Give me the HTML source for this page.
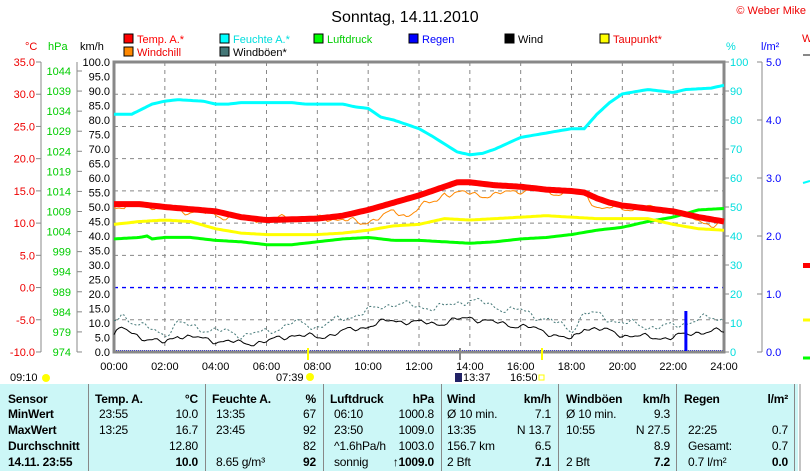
<!DOCTYPE html>
<html><head><meta charset="utf-8"><style>
body{margin:0;width:810px;height:471px;background:#fff;overflow:hidden;font-family:"Liberation Sans",sans-serif;position:relative}
svg{position:absolute;left:0;top:0}
#tbl{position:absolute;left:0;top:384px;width:798px;height:87px;background:#ccf7f7}
.c{position:absolute;font-size:12px;white-space:nowrap;letter-spacing:-0.2px}
.b{font-weight:bold}
.vd{position:absolute;top:384px;width:1px;height:87px;background:#888}
</style></head><body>
<svg width="810" height="471" id="s" font-family="Liberation Sans, sans-serif"></svg>
<div id="tbl"></div>
<script>
const s=document.getElementById('s');
let h='';
const X=t=>114+t*25.417, Y=v=>352-v*2.9;
h+=`<text x="405" y="22" font-size="16" text-anchor="middle">Sonntag, 14.11.2010</text>`;
h+=`<text x="806" y="14" font-size="11" fill="#e00" text-anchor="end">© Weber Mike</text>`;
const lg=[[124,38,'#f00','#f00','Temp. A.*'],[220,38,'#0ff','#0dd','Feuchte A.*'],[314,38,'#0f0','#0c0','Luftdruck'],[409,38,'#00f','#00f','Regen'],[505,38,'#000','#000','Wind'],[600,38,'#ff0','#e00','Taupunkt*'],[124,51,'#f80','#e00','Windchill'],[220,51,'#477','#000','Windböen*']];
lg.forEach(l=>{h+=`<rect x="${l[0]}" y="${l[1]-4}" width="9" height="9" fill="${l[2]}" stroke="#000"/><text x="${l[0]+13}" y="${l[1]+5}" font-size="11" fill="${l[3]}">${l[4]}</text>`});
h+=`<text x="25" y="50" font-size="11" fill="#e00">°C</text><text x="48" y="50" font-size="11" fill="#0c0">hPa</text><text x="80" y="50" font-size="11">km/h</text><text x="726" y="50" font-size="11" fill="#0dd">%</text><text x="761" y="50" font-size="11" fill="#00f">l/m²</text><text x="802" y="42" font-size="11" fill="#e00">W</text>`;
for(let i=1;i<12;i++){h+=`<line x1="${X(i*2)}" y1="62" x2="${X(i*2)}" y2="352" stroke="#888" stroke-dasharray="4,4"/>`}
for(let i=1;i<9;i++){const y=62+i*32.22;h+=`<line x1="114" y1="${y}" x2="724" y2="${y}" stroke="${i==7?'#00f':'#888'}" stroke-width="${i==7?1.3:1}" stroke-dasharray="4,4"/>`}
h+=`<line x1="114" y1="351" x2="724" y2="351" stroke="#00f" stroke-dasharray="1,1" stroke-width="2"/>`;
h+=`<rect x="114" y="62" width="610" height="290" fill="none" stroke="#888" stroke-width="3"/>`;
h+=`<line x1="41" y1="62" x2="41" y2="352" stroke="#888"/><line x1="77" y1="62" x2="77" y2="352" stroke="#888"/><line x1="762" y1="62" x2="762" y2="352" stroke="#888"/>`;
for(let i=0;i<=9;i++){const y=62+i*32.22;h+=`<line x1="36" y1="${y}" x2="41" y2="${y}" stroke="#888"/><text x="35" y="${y+4}" font-size="11" fill="#e00" text-anchor="end">${(35-i*5).toFixed(1)}</text>`}
for(let i=0;i<=14;i++){const y=71+i*20.07;h+=`<line x1="77" y1="${y}" x2="82" y2="${y}" stroke="#888"/><text x="71" y="${y+4}" font-size="11" fill="#0c0" text-anchor="end">${1044-i*5}</text>`}
for(let i=0;i<=20;i++){const y=62+i*14.5;h+=`<text x="110" y="${y+4}" font-size="11" text-anchor="end">${(100-i*5).toFixed(1)}</text>`}
for(let i=0;i<=10;i++){const y=62+i*29;h+=`<line x1="724" y1="${y}" x2="729" y2="${y}" stroke="#888"/><text x="730" y="${y+4}" font-size="11" fill="#0dd">${100-i*10}</text>`}
for(let i=0;i<=5;i++){const y=62+i*58;h+=`<line x1="757" y1="${y}" x2="762" y2="${y}" stroke="#888"/><text x="766" y="${y+4}" font-size="11" fill="#00f">${(5-i).toFixed(1)}</text>`}
for(let i=0;i<=12;i++){h+=`<text x="${X(i*2)}" y="370" font-size="11" text-anchor="middle">${String(i*2).padStart(2,'0')}:00</text>`}
function interp(p,t){for(let i=0;i<p.length-1;i++){if(t<=p[i+1][0]){const a=p[i],b=p[i+1];return a[1]+(b[1]-a[1])*(t-a[0])/(b[0]-a[0])}}return p[p.length-1][1]}
function path(p,step,noise,seed){let d='';for(let t=0;t<=24.001;t+=step){let v=interp(p,t);if(noise)v+=noise*(Math.sin(t*4.3+seed)+0.6*Math.sin(t*9.1+seed*2)+0.4*Math.sin(t*15.7+seed));d+=(d?'L':'M')+X(t).toFixed(1)+','+Y(v).toFixed(1)}return d}
const hum=[[0,82],[0.7,82],[1.5,85.5],[2,86.5],[2.5,87],[3.5,86.5],[4,85.5],[4.5,85.5],[5,86],[7,86],[7.5,85.5],[9,85.5],[9.5,84.5],[10,84],[10.5,81],[11,80],[12,77],[12.5,74.5],[13.5,69],[14,68],[14.5,68.5],[15,70],[16,74],[17,75.5],[18,77],[18.5,77],[19,82],[19.5,86],[20,89],[21,90.5],[22,89.5],[22.5,90.5],[23.5,91],[24,92]];
const tmp=[[0,51],[1,51],[2,50],[4,48.5],[5,46.5],[6,45.5],[8,46],[9,47],[10,49],[11,51.5],[12,54],[13,57],[13.5,58.5],[14,58.5],[15,57.5],[16,57],[17,56],[18,55.5],[18.5,55],[19,53],[19.5,51.5],[20,50.5],[21,49.5],[22,48.5],[23,46.5],[24,45]];
const wc=[[0,51],[0.4,49],[1,51],[5,46],[8,46],[9,46],[9.7,44],[10.5,47],[11,48],[11.5,47],[12,50],[12.7,52],[13,55],[15,54],[16,56],[17,55],[18,55],[18.5,55],[19,50],[19.5,49.5],[20,49.5],[21,49.5],[22,48.5],[23,45.5],[23.5,44],[24,44]];
const dew=[[0,44],[1,45],[2,45.5],[3,45],[4,42.5],[5,41],[6,40.5],[8,40.5],[9,41],[10,42],[11,43.5],[12,44],[13,46],[14,45.5],[15,46],[16,46.5],[17,47],[18,46.5],[19,46],[21,46],[22,44],[23,42.5],[24,42]];
const prs=[[0,39],[1,39.5],[1.3,40],[1.5,39],[2,39.5],[3,39.5],[4,38.5],[5,38],[6,37],[7,37],[8,38],[9,39],[10,39.5],[11,38.5],[12,38.5],[13,38],[14,37.5],[15,38],[16,39],[17,39.5],[18,40.5],[19,42],[20,43],[21,45],[22,46.5],[23,49],[24,49.5]];
const wnd=[[0,6],[0.3,8],[1,5.5],[1.5,4],[2,3],[2.5,6],[3,5],[4,4],[5,3],[6,3.5],[7,6],[8,5],[9,7],[10,9],[11,11],[12,10],[13,10],[14,12],[15,10],[16,9],[17,7],[18,4],[18.5,8.5],[19,8],[20,6],[21,5],[22,5],[23,7],[24,7]];
const gst=wnd.map(p=>[p[0],p[1]*1.35+2]);
h+=`<path d="${path(hum,0.1)}" fill="none" stroke="#0ff" stroke-width="3"/>`;
h+=`<path d="${path(prs,0.1)}" fill="none" stroke="#0f0" stroke-width="3"/>`;
h+=`<path d="${path(dew,0.1)}" fill="none" stroke="#ff0" stroke-width="3"/>`;
h+=`<path d="${path(gst,0.1,0.9,2)}" fill="none" stroke="#477" stroke-dasharray="2,2"/>`;
h+=`<path d="${path(wnd,0.1,0.7,0)}" fill="none" stroke="#000"/>`;
h+=`<path d="${path(wc,0.1,0.8,5)}" fill="none" stroke="#f80"/>`;
h+=`<path d="${path(tmp,0.1)}" fill="none" stroke="#f00" stroke-width="6"/>`;
h+=`<line x1="${X(22.5)}" y1="351" x2="${X(22.5)}" y2="311" stroke="#00f" stroke-width="3"/>`;
h+=`<line x1="308" y1="348" x2="308" y2="360" stroke="#ff0" stroke-width="2"/><line x1="542" y1="348" x2="542" y2="360" stroke="#ff0" stroke-width="2"/><line x1="460" y1="348" x2="460" y2="360" stroke="#888" stroke-width="2"/>`;
h+=`<text x="10" y="381" font-size="11">09:10</text><circle cx="46" cy="378" r="4" fill="#ff0"/><text x="276" y="381" font-size="11">07:39</text><circle cx="310" cy="377" r="4" fill="#ff0"/><rect x="455" y="373" width="7" height="9" fill="#226"/><text x="463" y="381" font-size="11">13:37</text><text x="510" y="381" font-size="11">16:50</text><rect x="539" y="375" width="5" height="5" fill="none" stroke="#ff0"/>`;
h+=`<line x1="803" y1="55" x2="810" y2="55" stroke="#888" stroke-width="2"/><rect x="803" y="263" width="7" height="5" fill="#f00"/><line x1="803" y1="320" x2="810" y2="320" stroke="#ff0" stroke-width="3"/><line x1="803" y1="358" x2="810" y2="358" stroke="#0f0" stroke-width="3"/><line x1="803" y1="183" x2="810" y2="181" stroke="#0ff" stroke-width="2"/><line x1="800" y1="384" x2="800" y2="471" stroke="#888"/>`;
s.innerHTML=h;
const T=document.getElementById('tbl');let q='';
const ys=[8,23,39,55,71];
[88,205,323,441,558,676,794].forEach(x=>q+=`<div class="vd" style="left:${x}px;top:0"></div>`);
function c(x,row,txt,bold,right){q+=`<div class="c${bold?' b':''}" style="${right?'right:'+(798-x)+'px':'left:'+x+'px'};top:${ys[row]}px">${txt}</div>`}
['Sensor','MinWert','MaxWert','Durchschnitt','14.11. 23:55'].forEach((t,i)=>c(8,i,t,true));
const cols=[[95,198,'Temp. A.','°C',['23:55','13:25','',''],['10.0','16.7','12.80','<b>10.0</b>']],
[212,316,'Feuchte A.','%',['13:35','23:45','','8.65 g/m³'],['67','92','82','<b>92</b>']],
[330,434,'Luftdruck','hPa',['06:10','23:50','^1.6hPa/h','sonnig'],['1000.8','1009.0','1003.0','<b>↑1009.0</b>']],
[447,551,'Wind','km/h',['Ø 10 min.','13:35','156.7 km','2 Bft'],['7.1','N 13.7','6.5','<b>7.1</b>']],
[566,670,'Windböen','km/h',['Ø 10 min.','10:55','','2 Bft'],['9.3','N 27.5','8.9','<b>7.2</b>']],
[684,788,'Regen','l/m²',['','22:25','Gesamt:','0.7 l/m²'],['','0.7','0.7','<b>0.0</b>']]];
cols.forEach(k=>{c(k[0],0,k[2],true);c(k[1],0,k[3],true,true);for(let i=0;i<4;i++){c(k[0]+(k[0]==447||k[0]==566?0:4),i+1,k[4][i]);c(k[1],i+1,k[5][i],false,true)}});
T.innerHTML=q;
</script>
</body></html>
